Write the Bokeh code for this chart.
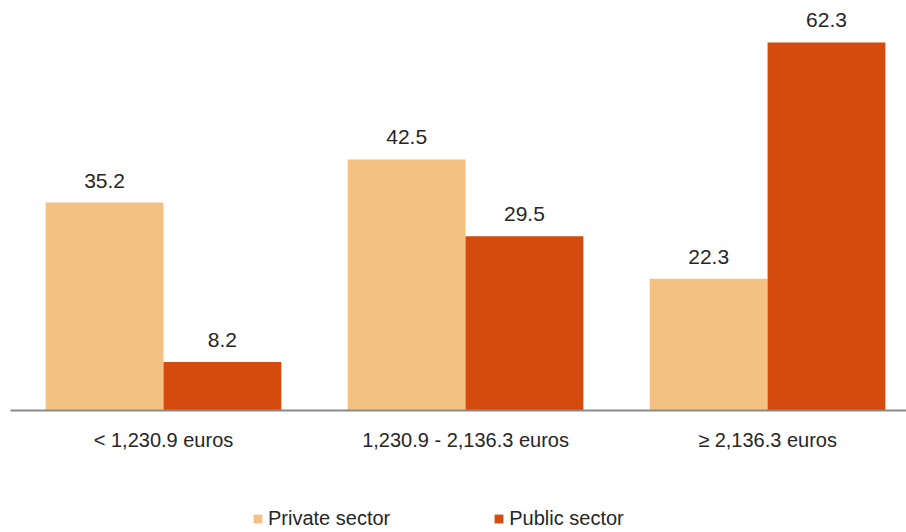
from bokeh.plotting import figure
from bokeh.models import ColumnDataSource, Range1d, FixedTicker, Legend, LegendItem
from bokeh.layouts import column
from bokeh.core.properties import value
from bokeh.embed import file_html
from bokeh.resources import INLINE

categories = ["< 1,230.9 euros", "1,230.9 - 2,136.3 euros", "\u2265 2,136.3 euros"]
private_sector = [35.2, 42.5, 22.3]
public_sector = [8.2, 29.5, 62.3]
series_names = ["Private sector", "Public sector"]

C_PRIV = "#F3C283"
C_PUB = "#D54B0D"
FONT = "Liberation Sans"
TXT = "#262626"

idx = list(range(len(categories)))
bw = 0.39
p = figure(width=906, height=455, output_backend="svg", toolbar_location=None,
           x_range=Range1d(-0.5066, 2.460), y_range=Range1d(0, 69.4),
           min_border_left=10, min_border_right=0, min_border_top=0, min_border_bottom=45)
p.outline_line_color = None
p.background_fill_color = "white"
p.border_fill_color = "white"
p.grid.visible = False
p.yaxis.visible = False

src_priv = ColumnDataSource(dict(x=[i - bw / 2 for i in idx], top=private_sector,
                                 lab=[f"{v:.1f}" for v in private_sector]))
src_pub = ColumnDataSource(dict(x=[i + bw / 2 for i in idx], top=public_sector,
                                lab=[f"{v:.1f}" for v in public_sector]))
r1 = p.vbar(x="x", top="top", width=bw, bottom=0, source=src_priv, fill_color=C_PRIV, line_color=None)
r2 = p.vbar(x="x", top="top", width=bw, bottom=0, source=src_pub, fill_color=C_PUB, line_color=None)
for src in (src_priv, src_pub):
    p.text(x="x", y="top", text="lab", source=src, text_align="center", text_baseline="bottom",
           y_offset=-15, text_font=value(FONT), text_font_size="21px", text_color=TXT)

ax = p.xaxis[0]
ax.ticker = FixedTicker(ticks=idx)
ax.major_label_overrides = {i: c for i, c in zip(idx, categories)}
ax.major_tick_line_color = None
ax.minor_tick_line_color = None
ax.axis_line_color = "#8a8a8a"
ax.axis_line_width = 2
ax.major_label_standoff = 12
ax.major_label_text_font = FONT
ax.major_label_text_font_size = "20px"
ax.major_label_text_color = TXT

# legend strip below the chart
lg = figure(width=906, height=77, output_backend="svg", toolbar_location=None,
            x_range=Range1d(0, 1), y_range=Range1d(0, 1),
            min_border_left=0, min_border_right=0, min_border_top=0, min_border_bottom=0)
lg.outline_line_color = None
lg.grid.visible = False
lg.axis.visible = False
off = dict(left=[5], right=[6], bottom=[5], top=[6])
d1 = lg.quad(source=ColumnDataSource(off), left="left", right="right", bottom="bottom", top="top",
             fill_color=C_PRIV, line_color=None)
d2 = lg.quad(source=ColumnDataSource(off), left="left", right="right", bottom="bottom", top="top",
             fill_color=C_PUB, line_color=None)
legend = Legend(items=[LegendItem(label=series_names[0], renderers=[d1]),
                       LegendItem(label=series_names[1], renderers=[d2])],
                orientation="horizontal", location=(242, 2),
                glyph_width=11, glyph_height=11, label_height=20, label_standoff=5,
                spacing=103, padding=0, margin=0, border_line_color=None,
                background_fill_alpha=0, label_text_font=FONT, label_text_font_size="20px",
                label_text_color=TXT)
lg.add_layout(legend, "center")

layout = column(p, lg, spacing=0)
open("out.html", "w").write(file_html(layout, INLINE))
